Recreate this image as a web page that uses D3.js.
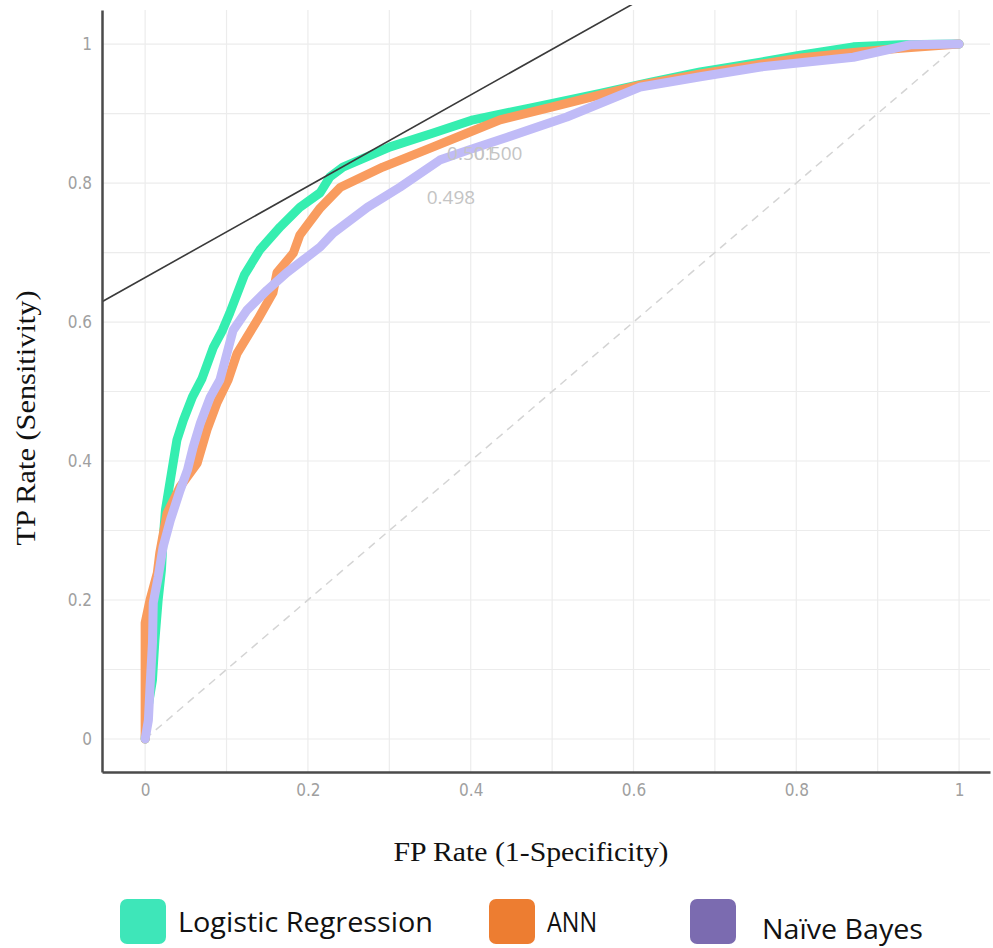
<!DOCTYPE html>
<html lang="en">
<head>
    <meta charset="UTF-8" />
    <title>ROC curves</title>
    <script src="https://d3js.org/d3.v7.min.js"></script>
    <style>
        body { margin: 0; background: #fff; }
        svg { display: block; }
    </style>
</head>
<body>
<div id="my_chart"></div>
<script>
    // ROC points (FP rate, TP rate)
    var lrFpr = [0.000, 0.002, 0.009, 0.012, 0.016, 0.020, 0.022, 0.025, 0.031, 0.039, 0.047, 0.058, 0.070, 0.084, 0.095, 0.104, 0.122, 0.141, 0.166, 0.190, 0.215, 0.227, 0.243, 0.301, 0.354, 0.403, 0.477, 0.518, 0.559, 0.620, 0.682, 0.756, 0.805, 0.870, 0.928, 1.000];
    var lrTpr = [0.000, 0.035, 0.085, 0.142, 0.200, 0.243, 0.286, 0.330, 0.373, 0.430, 0.459, 0.492, 0.519, 0.564, 0.588, 0.613, 0.668, 0.704, 0.737, 0.765, 0.786, 0.809, 0.823, 0.852, 0.872, 0.891, 0.909, 0.919, 0.929, 0.945, 0.960, 0.974, 0.984, 0.996, 0.999, 1.000];

    var annFpr = [0.000, 0.000, 0.000, 0.000, 0.006, 0.015, 0.018, 0.027, 0.043, 0.064, 0.076, 0.088, 0.102, 0.113, 0.138, 0.157, 0.162, 0.182, 0.190, 0.215, 0.240, 0.292, 0.354, 0.396, 0.436, 0.498, 0.559, 0.608, 0.682, 0.756, 0.805, 0.870, 0.928, 1.000];
    var annTpr = [0.000, 0.032, 0.089, 0.167, 0.200, 0.239, 0.268, 0.325, 0.363, 0.397, 0.445, 0.483, 0.517, 0.555, 0.603, 0.642, 0.671, 0.699, 0.725, 0.764, 0.794, 0.823, 0.852, 0.872, 0.891, 0.909, 0.927, 0.941, 0.957, 0.971, 0.980, 0.988, 0.994, 1.000];

    var nbFpr = [0.000, 0.004, 0.006, 0.009, 0.010, 0.016, 0.022, 0.031, 0.043, 0.052, 0.059, 0.068, 0.080, 0.092, 0.108, 0.125, 0.150, 0.174, 0.194, 0.215, 0.231, 0.273, 0.313, 0.362, 0.396, 0.445, 0.518, 0.608, 0.682, 0.756, 0.870, 0.940, 1.000];
    var nbTpr = [0.000, 0.027, 0.075, 0.138, 0.196, 0.233, 0.276, 0.315, 0.358, 0.387, 0.420, 0.455, 0.492, 0.517, 0.588, 0.617, 0.646, 0.671, 0.689, 0.708, 0.728, 0.765, 0.794, 0.833, 0.847, 0.866, 0.895, 0.938, 0.953, 0.967, 0.981, 0.999, 1.000];

    var seriesNames = ["Logistic Regression", "ANN", "Naïve Bayes"];
    var lineColors = ["#35eeb0", "#f99c5f", "#c0bbf7"];
    var legendColors = ["#3ee6b9", "#ed7d31", "#7b6bb0"];

    var tickValues = [0, 0.2, 0.4, 0.6, 0.8, 1];
    var gridValues = d3.range(0, 11).map(function (i) { return i / 10; });

    // tangent line y = b + m*x, and threshold labels
    var tangentIntercept = 0.664, tangentSlope = 0.657;
    var thresholdLabels = ["0.501", "0.500", "0.498"];
    var thresholdX = [0.371, 0.404, 0.346];
    var thresholdY = [0.843, 0.843, 0.780];

    var W = 993, H = 948;
    var margin = { top: 10, right: 3, bottom: 176, left: 102 },
        width = W - margin.left - margin.right,
        height = H - margin.top - margin.bottom;

    var svg = d3.select("#my_chart").append("svg")
        .attr("width", W).attr("height", H);
    var g = svg.append("g")
        .attr("transform", "translate(" + margin.left + "," + margin.top + ")");

    var x = d3.scaleLinear().domain([-0.053, 1.038]).range([0, width]);
    var y = d3.scaleLinear().domain([-0.0475, 1.049]).range([height, 0]);

    // grid
    g.append("g").selectAll("line").data(gridValues).enter().append("line")
        .attr("x1", d => x(d)).attr("x2", d => x(d))
        .attr("y1", 0).attr("y2", height)
        .attr("stroke", "#ececec").attr("stroke-width", 1.2);
    g.append("g").selectAll("line").data(gridValues).enter().append("line")
        .attr("x1", 0).attr("x2", width)
        .attr("y1", d => y(d)).attr("y2", d => y(d))
        .attr("stroke", "#ececec").attr("stroke-width", 1.2);

    // diagonal reference
    g.append("line")
        .attr("x1", x(0)).attr("y1", y(0)).attr("x2", x(1)).attr("y2", y(1))
        .attr("stroke", "#d4d4d4").attr("stroke-width", 1.5)
        .attr("stroke-dasharray", "8,6");

    // curves
    var allFpr = [lrFpr, annFpr, nbFpr], allTpr = [lrTpr, annTpr, nbTpr];
    var line = d3.line().x(d => x(d[0])).y(d => y(d[1]));
    allFpr.forEach(function (fpr, i) {
        var pts = fpr.map((v, j) => [v, allTpr[i][j]]);
        g.append("path").datum(pts)
            .attr("d", line)
            .attr("fill", "none")
            .attr("stroke", lineColors[i])
            .attr("stroke-width", 9)
            .attr("stroke-linejoin", "round")
            .attr("stroke-linecap", "round");
    });

    // threshold labels (they overlap in the original too)
    g.append("g").selectAll("text").data(thresholdLabels).enter().append("text")
        .attr("x", (d, i) => x(thresholdX[i]))
        .attr("y", (d, i) => y(thresholdY[i]))
        .attr("dy", "0.35em")
        .attr("fill", "#c4c4c4")
        .style("font-family", "'Open Sans', sans-serif")
        .style("font-size", "19px")
        .text(d => d);

    // tangent line, clipped to plot
    svg.append("clipPath").attr("id", "clip").append("rect")
        .attr("width", width).attr("height", height + 5).attr("y", -5);
    var x0 = x.domain()[0], x1 = x.domain()[1];
    g.append("line")
        .attr("clip-path", "url(#clip)")
        .attr("x1", x(x0)).attr("y1", y(tangentIntercept + tangentSlope * x0))
        .attr("x2", x(x1)).attr("y2", y(tangentIntercept + tangentSlope * x1))
        .attr("stroke", "#3a3a3a").attr("stroke-width", 1.6);

    // axes
    var fmt = d => (d === 0 || d === 1) ? String(d) : d.toFixed(1);
    var xAxis = g.append("g").attr("transform", "translate(0," + height + ")")
        .call(d3.axisBottom(x).tickValues(tickValues).tickFormat(fmt).tickSize(0).tickPadding(12));
    var yAxis = g.append("g")
        .call(d3.axisLeft(y).tickValues(tickValues).tickFormat(fmt).tickSize(0).tickPadding(10));
    [xAxis, yAxis].forEach(function (a) {
        a.select(".domain").attr("stroke", "#4a4a4a").attr("stroke-width", 2.5);
        a.selectAll("text")
            .attr("fill", "#a0a0a0")
            .style("font-family", "'DejaVu Sans Condensed', 'DejaVu Sans', sans-serif")
            .style("font-size", "17px");
    });

    // axis titles
    svg.append("text")
        .attr("x", 531).attr("y", 861)
        .attr("text-anchor", "middle")
        .attr("textLength", 275).attr("lengthAdjust", "spacingAndGlyphs")
        .style("font-family", "'Liberation Serif', serif")
        .style("font-size", "28px")
        .attr("fill", "#111")
        .text("FP Rate (1-Specificity)");
    svg.append("text")
        .attr("transform", "translate(35,418) rotate(-90)")
        .attr("text-anchor", "middle")
        .attr("textLength", 255).attr("lengthAdjust", "spacingAndGlyphs")
        .style("font-family", "'Liberation Serif', serif")
        .style("font-size", "28px")
        .attr("fill", "#111")
        .text("TP Rate (Sensitivity)");

    // legend
    var legendX = [120, 489, 690];
    var legendTextY = [932, 932, 939];
    var legendTextW = [255, 50, 161];
    var legend = svg.append("g").selectAll("g").data(seriesNames).enter().append("g");
    legend.append("rect")
        .attr("x", (d, i) => legendX[i]).attr("y", 899)
        .attr("width", 46).attr("height", 45).attr("rx", 7)
        .attr("fill", (d, i) => legendColors[i]);
    legend.append("text")
        .attr("x", (d, i) => legendX[i] + (i === 2 ? 72 : 58))
        .attr("y", (d, i) => legendTextY[i])
        .attr("textLength", (d, i) => legendTextW[i])
        .attr("lengthAdjust", "spacingAndGlyphs")
        .style("font-family", "'Open Sans', sans-serif")
        .style("font-size", "28px")
        .attr("fill", "#111")
        .text(d => d);
</script>
</body>
</html>
